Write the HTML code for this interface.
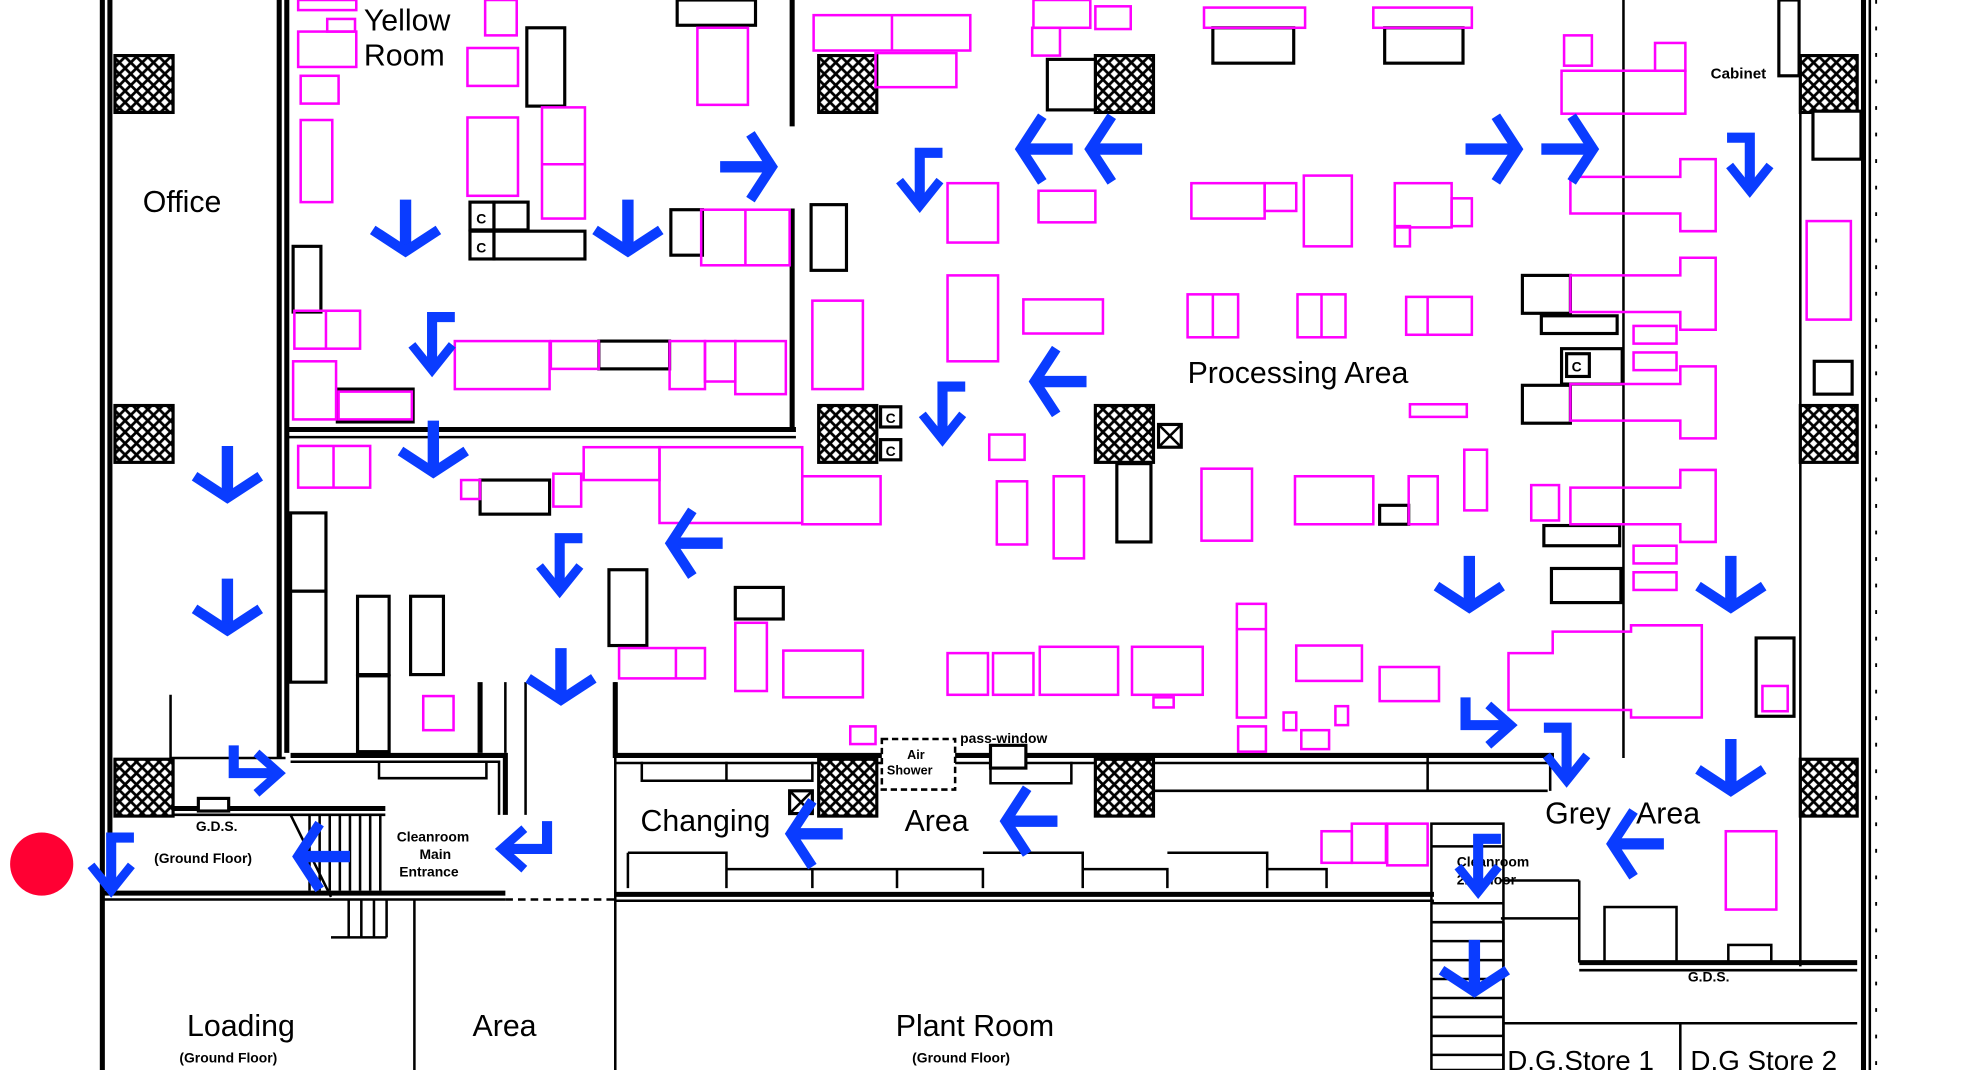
<!DOCTYPE html>
<html><head><meta charset="utf-8"><style>
html,body{margin:0;padding:0;background:#fff;width:1981px;height:1070px;overflow:hidden}
svg{display:block}
text{font-family:"Liberation Sans",sans-serif;fill:#000}
.m{fill:none;stroke:#f0f;stroke-width:2}
.k{fill:#fff;stroke:#000;stroke-width:2.5}
.w{stroke:#000;stroke-width:2;fill:none}
.t{stroke:#000;stroke-width:4;fill:none}
.b{font-weight:bold}
</style></head><body>
<svg width="1981" height="1070" viewBox="0 0 1568 847" preserveAspectRatio="none" xmlns="http://www.w3.org/2000/svg">
<defs>
<pattern id="hx" width="9" height="9" patternUnits="userSpaceOnUse">
<rect width="9" height="9" fill="#fff"/>
<path d="M0,0 L9,9 M9,0 L0,9" stroke="#000" stroke-width="2.2"/>
</pattern>
<g id="R"><path d="M-22,0 H15" stroke="#0a3cff" stroke-width="9" fill="none"/><path d="M2,-26 L19,0 L2,26" stroke="#0a3cff" stroke-width="8" fill="none" stroke-miterlimit="10"/></g>
<g id="BD"><path d="M18,-24 H0 V16" stroke="#0a3cff" stroke-width="8" fill="none" stroke-linejoin="miter"/><path d="M-16,-2 L0,18 L16,-2" stroke="#0a3cff" stroke-width="7" fill="none"/></g>
<g id="BD2"><path d="M-18,-24 H0 V16" stroke="#0a3cff" stroke-width="8" fill="none"/><path d="M-16,-2 L0,18 L16,-2" stroke="#0a3cff" stroke-width="7" fill="none"/></g>
<g id="BR"><path d="M-20,-22 V0 H14" stroke="#0a3cff" stroke-width="8" fill="none"/><path d="M-2,-16 L16,0 L-2,16" stroke="#0a3cff" stroke-width="7" fill="none"/></g>
<g id="BL"><path d="M20,-22 V0 H-14" stroke="#0a3cff" stroke-width="8" fill="none"/><path d="M2,-16 L-16,0 L2,16" stroke="#0a3cff" stroke-width="7" fill="none"/></g>
</defs>

<!-- walls -->
<path class="t" d="M81,0 V847 M87,0 V705"/>
<path class="t" d="M221,0 V600 M227,0 V596"/>
<path class="w" d="M135,550 V600 M135,600 H226"/>
<path class="t" d="M1475,0 V847"/><path class="w" d="M1480,0 V847"/><path d="M1485,0 V847" stroke="#000" stroke-width="1.5" stroke-dasharray="3,18"/>
<path class="w" d="M1425,90 V765 M1285,0 V600"/>
<path class="t" d="M627,0 V100 M627,165 V340"/>
<path class="t" d="M227,340 H630"/><path class="w" d="M227,346 H630"/>
<path class="t" d="M487,598 H1230"/><path class="w" d="M487,604 H1230 M487,540 V600"/>
<path class="w" d="M913,626 H1225 M1130,600 V626 M1227,600 V626"/>
<path class="t" d="M230,598 H400 V645"/><path class="w" d="M230,603 H395 V645 M300,603 V616 H385 V603"/>
<path class="t" d="M380,540 V596 M487,540 V600"/>
<path class="w" d="M400,540 V596 M416,540 V645"/>
<path class="t" d="M137,640 H305"/><path class="w" d="M137,645 H305"/>
<path class="t" d="M81,707 H400"/><path class="w" d="M81,712 H400"/>
<path class="w" d="M400,712 H487" stroke-dasharray="6,4"/>
<path class="t" d="M487,708 H1135"/><path class="w" d="M487,713 H1135 M487,600 V847"/>
<path class="w" d="M328,712 V847"/>
<path class="w" d="M497,675 H575 V703 M575,688 H643 V703 M643,688 H710 V703 M710,688 H778 V703 M778,675 H857 V703 M857,688 H924 V703 M924,675 H1003 V703 M1003,688 H1050 V703 M497,675 V703"/>
<path class="w" d="M508,603 V618 H575 V603 M575,618 H643 V603 M784,603 V620 H848 V603"/>
<path class="t" d="M1250,762 H1470"/><path class="w" d="M1250,768 H1470 M1190,810 H1470 M1190,730 V847 M1330,810 V847"/>
<path class="w" d="M1250,697 V762 M1188,697 H1250 M1188,727 H1250"/>
<!-- stairs -->
<rect x="1133" y="652" width="57" height="195" class="w"/>
<path class="w" d="M1133,670 H1190 M1133,715 H1190 M1133,730 H1190 M1133,745 H1190 M1133,760 H1190 M1133,775 H1190 M1133,790 H1190 M1133,805 H1190 M1133,820 H1190 M1133,835 H1190"/>
<path class="w" d="M245,645 V705 M253,645 V705 M261,645 V705 M269,645 V705 M277,645 V705 M285,645 V705 M293,645 V705 M301,645 V705 M230,645 L262,710 M276,712 V742 M286,712 V742 M296,712 V742 M306,712 V742 M262,742 H306"/>
<rect x="1270" y="718" width="57" height="44" class="w"/><rect x="1368" y="748" width="34" height="14" class="w"/>
<!-- crosshatch -->
<g stroke="#000" stroke-width="2.5" fill="url(#hx)">
<rect x="91" y="44" width="46" height="45"/><rect x="91" y="321" width="46" height="45"/><rect x="91" y="601" width="46" height="45"/>
<rect x="648" y="44" width="46" height="45"/><rect x="867" y="44" width="46" height="45"/>
<rect x="648" y="321" width="46" height="45"/><rect x="867" y="321" width="46" height="45"/>
<rect x="648" y="601" width="46" height="45"/><rect x="867" y="601" width="46" height="45"/>
<rect x="1425" y="44" width="45" height="45"/><rect x="1425" y="321" width="45" height="45"/><rect x="1425" y="601" width="45" height="45"/>
</g>
<!-- black furniture -->
<g class="k">
<rect x="536" y="0" width="62" height="20"/><rect x="417" y="22" width="30" height="62"/>
<rect x="372" y="160" width="19" height="22"/><rect x="372" y="183" width="19" height="22"/><rect x="391" y="160" width="27" height="22"/><rect x="391" y="183" width="72" height="22"/>
<rect x="531" y="166" width="25" height="36"/><rect x="642" y="162" width="28" height="52"/>
<rect x="829" y="47" width="38" height="40"/><rect x="960" y="22" width="64" height="28"/><rect x="1096" y="22" width="62" height="28"/>
<rect x="1408" y="0" width="16" height="60"/><rect x="1435" y="88" width="38" height="38"/><rect x="1436" y="286" width="30" height="26"/>
<rect x="232" y="195" width="22" height="52"/><rect x="230" y="406" width="28" height="62"/><rect x="230" y="468" width="28" height="72"/>
<rect x="283" y="472" width="25" height="62"/><rect x="283" y="535" width="25" height="60"/><rect x="325" y="472" width="26" height="62"/>
<rect x="380" y="380" width="55" height="27"/><rect x="474" y="270" width="56" height="22"/><rect x="482" y="451" width="30" height="60"/>
<rect x="582" y="465" width="38" height="25"/><rect x="884" y="367" width="27" height="62"/><rect x="1092" y="400" width="23" height="15"/>
<rect x="1205" y="218" width="38" height="30"/><rect x="1220" y="250" width="60" height="14"/><rect x="1236" y="276" width="48" height="28"/><rect x="1205" y="305" width="38" height="30"/>
<rect x="1222" y="416" width="60" height="16"/><rect x="1228" y="450" width="55" height="27"/><rect x="1390" y="505" width="30" height="62"/>
<rect x="784" y="590" width="28" height="18"/>
<rect x="267" y="308" width="60" height="26"/>
<rect x="697" y="322" width="16" height="16"/><rect x="697" y="348" width="16" height="16"/><rect x="1240" y="280" width="18" height="18"/>
<rect x="917" y="336" width="18" height="18"/><rect x="625" y="626" width="18" height="18"/>
<rect x="157" y="632" width="24" height="10"/>
</g>
<path class="w" d="M917,336 L935,354 M935,336 L917,354 M625,626 L643,644 M643,626 L625,644"/>
<rect x="698" y="585" width="58" height="40" fill="#fff" stroke="#000" stroke-width="2" stroke-dasharray="5,3"/>
<!-- magenta -->
<g class="m">
<rect x="236" y="0" width="46" height="8"/><rect x="259" y="15" width="22" height="10"/><rect x="236" y="25" width="46" height="28"/><rect x="238" y="60" width="30" height="22"/><rect x="238" y="95" width="25" height="65"/>
<rect x="370" y="38" width="40" height="30"/><rect x="384" y="0" width="25" height="28"/><rect x="370" y="93" width="40" height="62"/><rect x="429" y="85" width="34" height="88"/><path d="M429,130 H463"/>
<rect x="552" y="22" width="40" height="61"/><rect x="555" y="166" width="70" height="44"/><path d="M590,166 V210"/>
<rect x="233" y="246" width="52" height="30"/><path d="M258,246 V276"/><rect x="232" y="286" width="34" height="46"/><rect x="268" y="310" width="58" height="22"/>
<rect x="360" y="270" width="75" height="38"/><rect x="436" y="270" width="38" height="22"/><rect x="530" y="270" width="28" height="38"/><rect x="558" y="270" width="24" height="32"/><rect x="582" y="270" width="40" height="42"/>
<rect x="236" y="353" width="57" height="33"/><path d="M264,353 V386"/><rect x="365" y="380" width="15" height="15"/><rect x="438" y="375" width="22" height="26"/><rect x="462" y="354" width="60" height="26"/><rect x="522" y="354" width="113" height="60"/><rect x="635" y="377" width="62" height="38"/>
<rect x="490" y="513" width="68" height="24"/><path d="M535,513 V537"/><rect x="582" y="493" width="25" height="54"/><rect x="620" y="515" width="63" height="37"/><rect x="335" y="551" width="24" height="27"/><rect x="673" y="575" width="20" height="14"/>
<rect x="644" y="12" width="124" height="28"/><path d="M706,12 V40"/><rect x="693" y="42" width="64" height="27"/><rect x="818" y="0" width="45" height="22"/><rect x="817" y="22" width="22" height="22"/><rect x="867" y="5" width="28" height="18"/>
<rect x="953" y="6" width="80" height="16"/><rect x="1087" y="6" width="78" height="16"/>
<rect x="750" y="145" width="40" height="47"/><rect x="822" y="151" width="45" height="25"/><rect x="750" y="218" width="40" height="68"/><rect x="810" y="237" width="63" height="27"/><rect x="643" y="238" width="40" height="70"/>
<rect x="943" y="145" width="58" height="28"/><rect x="1001" y="145" width="25" height="22"/><rect x="1032" y="139" width="38" height="56"/><rect x="1104" y="145" width="45" height="35"/><rect x="1149" y="157" width="16" height="22"/><rect x="1104" y="179" width="12" height="16"/>
<rect x="940" y="233" width="40" height="34"/><path d="M960,233 V267"/><rect x="1027" y="233" width="38" height="34"/><path d="M1046,233 V267"/><rect x="1113" y="235" width="52" height="30"/><path d="M1130,235 V265"/><rect x="1116" y="320" width="45" height="10"/>
<rect x="783" y="344" width="28" height="20"/><rect x="789" y="381" width="24" height="50"/><rect x="834" y="377" width="24" height="65"/><rect x="951" y="371" width="40" height="57"/><rect x="1025" y="377" width="62" height="38"/><rect x="1115" y="377" width="23" height="38"/><rect x="1159" y="356" width="18" height="48"/>
<rect x="750" y="517" width="32" height="33"/><rect x="786" y="517" width="32" height="33"/><rect x="823" y="512" width="62" height="38"/><rect x="896" y="512" width="56" height="38"/><rect x="913" y="552" width="16" height="8"/>
<rect x="979" y="478" width="23" height="90"/><path d="M979,498 H1002"/><rect x="980" y="575" width="22" height="20"/><rect x="1016" y="564" width="10" height="14"/><rect x="1030" y="578" width="22" height="15"/><rect x="1057" y="559" width="10" height="15"/><rect x="1026" y="511" width="52" height="28"/><rect x="1092" y="528" width="47" height="27"/>
<rect x="1046" y="658" width="24" height="25"/><rect x="1070" y="652" width="27" height="31"/><rect x="1098" y="652" width="32" height="33"/><rect x="1366" y="658" width="40" height="62"/><rect x="1430" y="175" width="35" height="78"/>
<rect x="1238" y="28" width="22" height="24"/><rect x="1310" y="34" width="24" height="22"/><rect x="1236" y="56" width="98" height="34"/>
<polygon points="1243,140 1330,140 1330,126 1358,126 1358,183 1330,183 1330,169 1243,169"/>
<polygon points="1243,218 1330,218 1330,204 1358,204 1358,261 1330,261 1330,247 1243,247"/>
<polygon points="1243,304 1330,304 1330,290 1358,290 1358,347 1330,347 1330,333 1243,333"/>
<polygon points="1243,386 1330,386 1330,372 1358,372 1358,429 1330,429 1330,415 1243,415"/>
<rect x="1293" y="258" width="34" height="14"/><rect x="1293" y="279" width="34" height="14"/><rect x="1212" y="384" width="22" height="28"/><rect x="1293" y="432" width="34" height="14"/><rect x="1293" y="453" width="34" height="14"/>
<polygon points="1194,517 1229,517 1229,500 1291,500 1291,495 1347,495 1347,568 1291,568 1291,562 1194,562"/>
<rect x="1395" y="543" width="20" height="20"/>
</g>
<!-- text -->
<text x="288" y="24" font-size="24">Yellow</text><text x="288" y="52" font-size="24">Room</text>
<text x="113" y="168" font-size="24">Office</text>
<text x="940" y="303" font-size="24">Processing Area</text>
<text x="507" y="658" font-size="24">Changing</text><text x="716" y="658" font-size="24">Area</text>
<text x="1223" y="652" font-size="24">Grey</text><text x="1295" y="652" font-size="24">Area</text>
<text x="148" y="820" font-size="24">Loading</text><text x="374" y="820" font-size="24">Area</text>
<text x="709" y="820" font-size="24">Plant Room</text>
<text x="142" y="841" font-size="11" class="b">(Ground Floor)</text><text x="722" y="841" font-size="11" class="b">(Ground Floor)</text>
<text x="1193" y="847" font-size="22">D.G.Store 1</text><text x="1338" y="847" font-size="22">D.G Store 2</text>
<text x="1354" y="62" font-size="12" class="b">Cabinet</text>
<text x="155" y="658" font-size="11" class="b">G.D.S.</text><text x="122" y="683" font-size="11" class="b">(Ground Floor)</text>
<text x="1336" y="777" font-size="11" class="b">G.D.S.</text>
<text x="314" y="666" font-size="11" class="b">Cleanroom</text><text x="332" y="680" font-size="11" class="b">Main</text><text x="316" y="694" font-size="11" class="b">Entrance</text>
<text x="718" y="601" font-size="10" class="b">Air</text><text x="702" y="613" font-size="10" class="b">Shower</text>
<text x="760" y="588" font-size="11" class="b">pass-window</text>
<text x="1153" y="686" font-size="11" class="b">Cleanroom</text><text x="1153" y="700" font-size="11" class="b">2nd floor</text>
<g font-size="11" class="b"><text x="377" y="177">C</text><text x="377" y="200">C</text><text x="701" y="335">C</text><text x="701" y="361">C</text><text x="1244" y="294">C</text></g>
<!-- arrows -->
<use href="#R" transform="translate(321,180) rotate(90)"/><use href="#R" transform="translate(497,180) rotate(90)"/>
<use href="#R" transform="translate(343,355) rotate(90)"/><use href="#R" transform="translate(180,375) rotate(90)"/><use href="#R" transform="translate(180,480) rotate(90)"/>
<use href="#R" transform="translate(444,535) rotate(90)"/><use href="#R" transform="translate(1163,462) rotate(90)"/><use href="#R" transform="translate(1370,462) rotate(90)"/>
<use href="#R" transform="translate(1370,607) rotate(90)"/><use href="#R" transform="translate(1167,766) rotate(90)"/>
<use href="#R" transform="translate(827,118) rotate(180)"/><use href="#R" transform="translate(882,118) rotate(180)"/><use href="#R" transform="translate(838,302) rotate(180)"/>
<use href="#R" transform="translate(550,430) rotate(180)"/><use href="#R" transform="translate(255,678) rotate(180)"/><use href="#R" transform="translate(645,660) rotate(180)"/>
<use href="#R" transform="translate(815,650) rotate(180)"/><use href="#R" transform="translate(1295,668) rotate(180)"/>
<use href="#R" transform="translate(592,132)"/><use href="#R" transform="translate(1182,118)"/><use href="#R" transform="translate(1242,118)"/>
<use href="#BD" transform="translate(728,145)"/><use href="#BD" transform="translate(746,330)"/><use href="#BD" transform="translate(342,275)"/>
<use href="#BD" transform="translate(443,450)"/><use href="#BD" transform="translate(1170,688)"/><use href="#BD" transform="translate(88,687)"/>
<use href="#BD2" transform="translate(1385,133)"/><use href="#BD2" transform="translate(1240,600)"/>
<use href="#BR" transform="translate(205,612)"/><use href="#BR" transform="translate(1180,574)"/>
<use href="#BL" transform="translate(413,672)"/>
<circle cx="33" cy="684" r="25" fill="#f03"/>
</svg>
</body></html>
